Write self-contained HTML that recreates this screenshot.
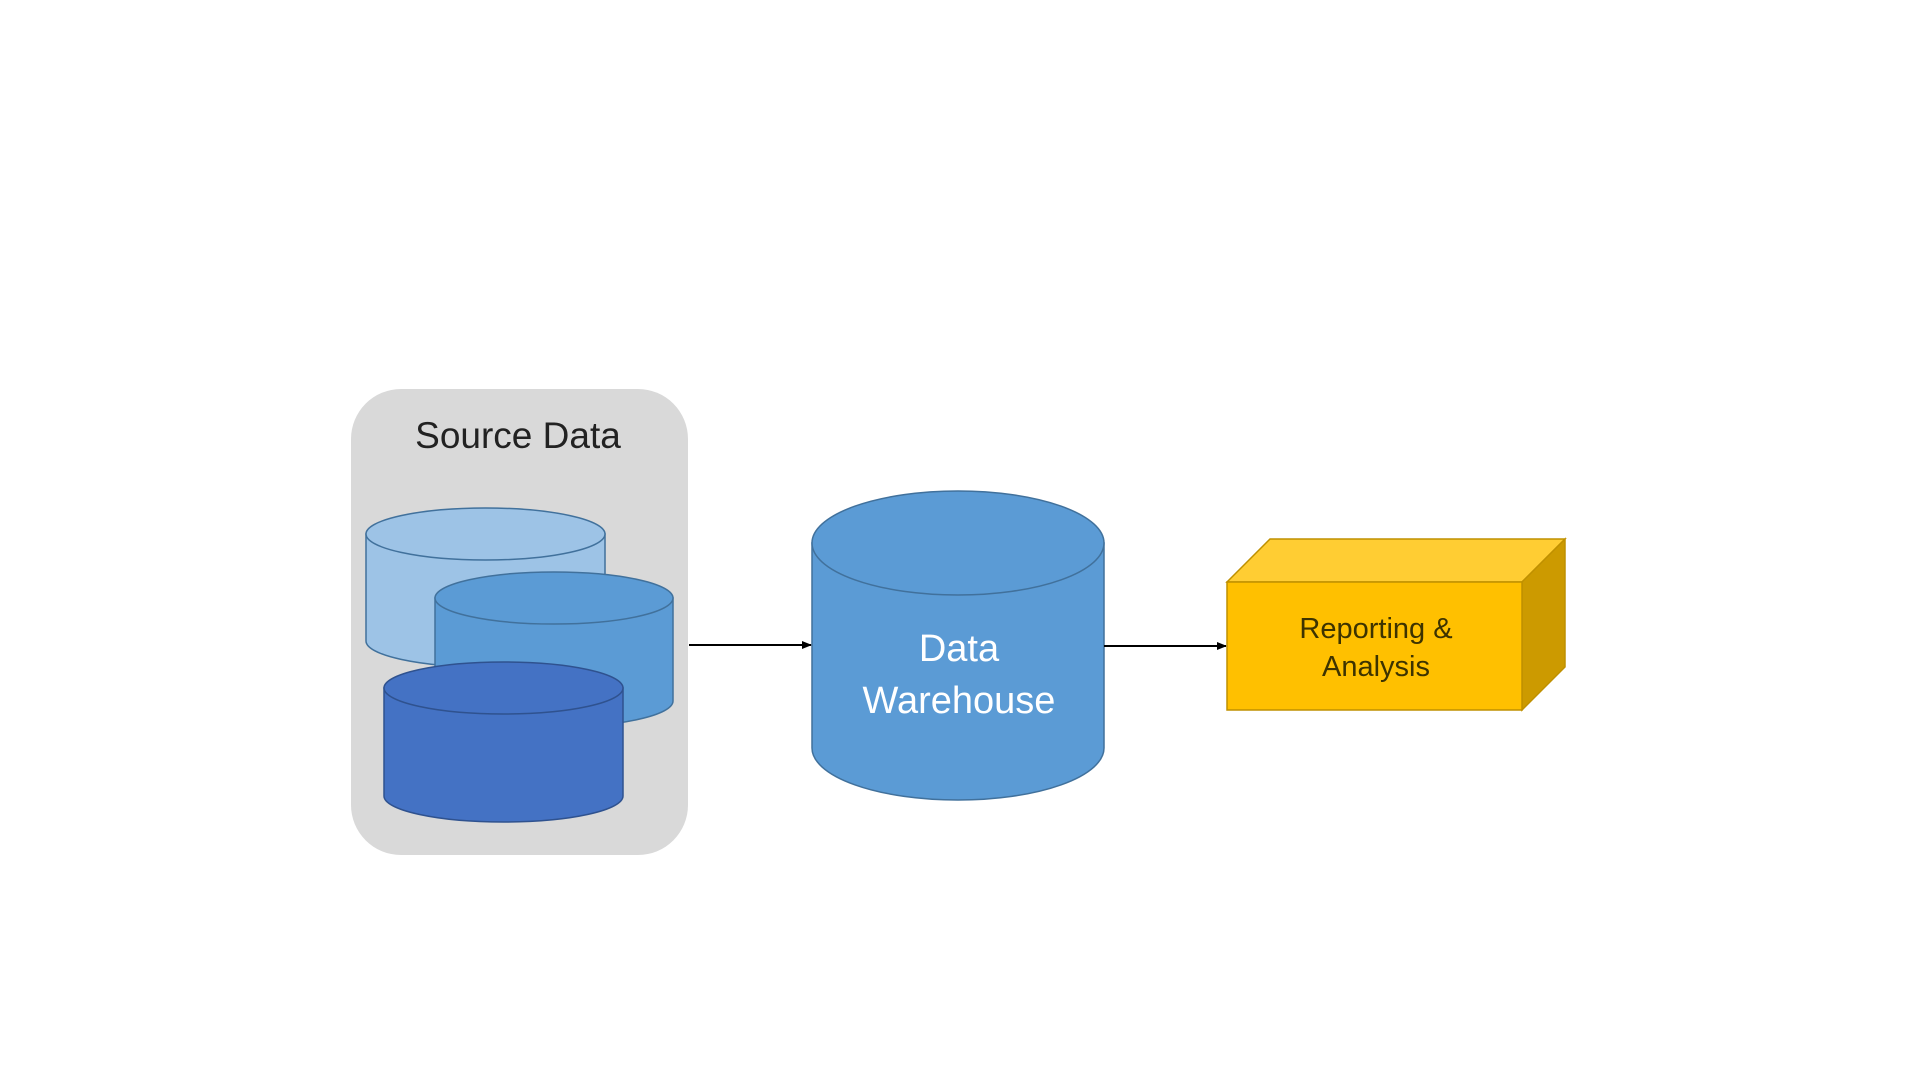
<!DOCTYPE html>
<html><head><meta charset="utf-8"><style>
html,body{margin:0;padding:0;background:#fff;width:1920px;height:1080px;overflow:hidden}
text{font-family:"Liberation Sans",sans-serif}
</style></head><body>
<svg width="1920" height="1080" viewBox="0 0 1920 1080" xmlns="http://www.w3.org/2000/svg">
<defs><marker id="ah" markerWidth="10" markerHeight="10" refX="9" refY="5" orient="auto" markerUnits="userSpaceOnUse"><path d="M0,1 L10,5 L0,9 Z" fill="#000"/></marker></defs>
<rect x="351" y="389" width="337" height="466" rx="50" fill="#d9d9d9"/>
<text x="518" y="448" font-size="37" text-anchor="middle" fill="#222">Source Data</text>
<!-- cyl 1 -->
<g stroke="#41719c" stroke-width="1.5">
<path d="M366,534 L366,641 A119.5,26 0 0 0 605,641 L605,534 Z" fill="#9dc3e6"/>
<ellipse cx="485.5" cy="534" rx="119.5" ry="26" fill="#9dc3e6"/>
<path d="M435,598 L435,701 A119,26 0 0 0 673,701 L673,598 Z" fill="#5b9bd5"/>
<ellipse cx="554" cy="598" rx="119" ry="26" fill="#5b9bd5"/>
<path d="M384,688 L384,796 A119.5,26 0 0 0 623,796 L623,688 Z" fill="#4472c4" stroke="#2f528f"/>
<ellipse cx="503.5" cy="688" rx="119.5" ry="26" fill="#4472c4" stroke="#2f528f"/>
<path d="M812,543 L812,748 A146,52 0 0 0 1104,748 L1104,543 Z" fill="#5b9bd5"/>
<ellipse cx="958" cy="543" rx="146" ry="52" fill="#5b9bd5"/>
</g>
<text x="959" y="661" font-size="38" text-anchor="middle" fill="#fff">Data</text>
<text x="959" y="713" font-size="38" text-anchor="middle" fill="#fff">Warehouse</text>
<line x1="689" y1="645" x2="811" y2="645" stroke="#000" stroke-width="2" marker-end="url(#ah)"/>
<line x1="1104" y1="646" x2="1226" y2="646" stroke="#000" stroke-width="2" marker-end="url(#ah)"/>
<g stroke="#bf9000" stroke-width="1.5">
<polygon points="1227,582 1270,539 1565,539 1522,582" fill="#ffcd33"/>
<polygon points="1522,582 1565,539 1565,667 1522,710" fill="#cc9a00"/>
<rect x="1227" y="582" width="295" height="128" fill="#ffc000"/>
</g>
<text x="1376" y="638" font-size="29" text-anchor="middle" fill="#3d3300">Reporting &amp;</text>
<text x="1376" y="676" font-size="29" text-anchor="middle" fill="#3d3300">Analysis</text>
</svg>
</body></html>
